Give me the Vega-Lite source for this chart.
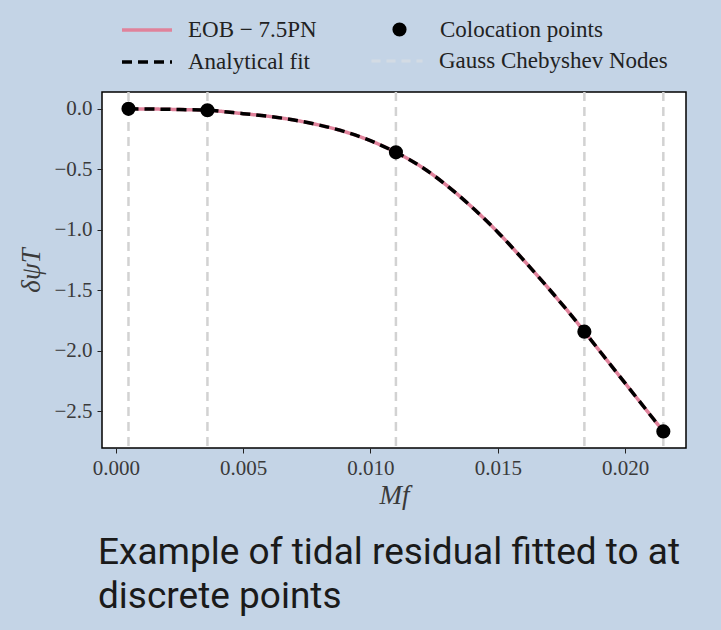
{
  "$schema": "https://vega.github.io/schema/vega-lite/v6.json",
  "width": 584,
  "height": 356,
  "autosize": {"type": "none"},
  "padding": {"left": 102, "top": 92, "right": 35, "bottom": 182},
  "background": "#c4d4e6",
  "config": {
    "view": {"fill": "white", "stroke": "black", "strokeWidth": 1.5},
    "axis": {
      "labelFont": "Liberation Serif",
      "labelFontSize": 21,
      "labelColor": "#3a3a3a",
      "tickColor": "#222222",
      "tickSize": 5,
      "tickWidth": 1,
      "domain": false,
      "grid": false,
      "titleFont": "Liberation Serif",
      "titleFontStyle": "italic",
      "titleFontWeight": "normal",
      "titleFontSize": 27,
      "titleColor": "#3a3a3a"
    },
    "legend": {
      "labelFont": "Liberation Serif",
      "labelFontSize": 23,
      "labelColor": "#222222",
      "labelLimit": 400,
      "orient": "none"
    }
  },
  "title": {
    "text": ["Example of tidal residual fitted to at", "discrete points"],
    "orient": "bottom",
    "anchor": "start",
    "frame": "group",
    "font": "Roboto",
    "fontSize": 37,
    "fontWeight": 400,
    "lineHeight": 44,
    "color": "#1a1a1a",
    "offset": 27,
    "dx": -4
  },
  "resolve": {"scale": {"strokeDash": "independent", "color": "independent"}},
  "datasets": {
    "lines": [
      {"mf": 0.0005, "dpsi": 0.0, "series": "EOB − 7.5PN"},
      {"mf": 0.0015, "dpsi": -0.002, "series": "EOB − 7.5PN"},
      {"mf": 0.0025, "dpsi": -0.006, "series": "EOB − 7.5PN"},
      {"mf": 0.0036, "dpsi": -0.012, "series": "EOB − 7.5PN"},
      {"mf": 0.005, "dpsi": -0.04, "series": "EOB − 7.5PN"},
      {"mf": 0.006, "dpsi": -0.062, "series": "EOB − 7.5PN"},
      {"mf": 0.007, "dpsi": -0.093, "series": "EOB − 7.5PN"},
      {"mf": 0.008, "dpsi": -0.135, "series": "EOB − 7.5PN"},
      {"mf": 0.009, "dpsi": -0.19, "series": "EOB − 7.5PN"},
      {"mf": 0.010, "dpsi": -0.264, "series": "EOB − 7.5PN"},
      {"mf": 0.011, "dpsi": -0.36, "series": "EOB − 7.5PN"},
      {"mf": 0.012, "dpsi": -0.48, "series": "EOB − 7.5PN"},
      {"mf": 0.013, "dpsi": -0.634, "series": "EOB − 7.5PN"},
      {"mf": 0.014, "dpsi": -0.816, "series": "EOB − 7.5PN"},
      {"mf": 0.015, "dpsi": -1.02, "series": "EOB − 7.5PN"},
      {"mf": 0.016, "dpsi": -1.248, "series": "EOB − 7.5PN"},
      {"mf": 0.017, "dpsi": -1.487, "series": "EOB − 7.5PN"},
      {"mf": 0.018, "dpsi": -1.737, "series": "EOB − 7.5PN"},
      {"mf": 0.0184, "dpsi": -1.843, "series": "EOB − 7.5PN"},
      {"mf": 0.0195, "dpsi": -2.136, "series": "EOB − 7.5PN"},
      {"mf": 0.0205, "dpsi": -2.402, "series": "EOB − 7.5PN"},
      {"mf": 0.0215, "dpsi": -2.668, "series": "EOB − 7.5PN"},
      {"mf": 0.0005, "dpsi": 0.0, "series": "Analytical fit"},
      {"mf": 0.0015, "dpsi": -0.002, "series": "Analytical fit"},
      {"mf": 0.0025, "dpsi": -0.006, "series": "Analytical fit"},
      {"mf": 0.0036, "dpsi": -0.012, "series": "Analytical fit"},
      {"mf": 0.005, "dpsi": -0.04, "series": "Analytical fit"},
      {"mf": 0.006, "dpsi": -0.062, "series": "Analytical fit"},
      {"mf": 0.007, "dpsi": -0.093, "series": "Analytical fit"},
      {"mf": 0.008, "dpsi": -0.135, "series": "Analytical fit"},
      {"mf": 0.009, "dpsi": -0.19, "series": "Analytical fit"},
      {"mf": 0.010, "dpsi": -0.264, "series": "Analytical fit"},
      {"mf": 0.011, "dpsi": -0.36, "series": "Analytical fit"},
      {"mf": 0.012, "dpsi": -0.48, "series": "Analytical fit"},
      {"mf": 0.013, "dpsi": -0.634, "series": "Analytical fit"},
      {"mf": 0.014, "dpsi": -0.816, "series": "Analytical fit"},
      {"mf": 0.015, "dpsi": -1.02, "series": "Analytical fit"},
      {"mf": 0.016, "dpsi": -1.248, "series": "Analytical fit"},
      {"mf": 0.017, "dpsi": -1.487, "series": "Analytical fit"},
      {"mf": 0.018, "dpsi": -1.737, "series": "Analytical fit"},
      {"mf": 0.0184, "dpsi": -1.843, "series": "Analytical fit"},
      {"mf": 0.0195, "dpsi": -2.136, "series": "Analytical fit"},
      {"mf": 0.0205, "dpsi": -2.402, "series": "Analytical fit"},
      {"mf": 0.0215, "dpsi": -2.668, "series": "Analytical fit"}
    ],
    "points": [
      {"mf": 0.0005, "dpsi": 0.0, "series": "Colocation points"},
      {"mf": 0.0036, "dpsi": -0.012, "series": "Colocation points"},
      {"mf": 0.011, "dpsi": -0.36, "series": "Colocation points"},
      {"mf": 0.0184, "dpsi": -1.843, "series": "Colocation points"},
      {"mf": 0.0215, "dpsi": -2.668, "series": "Colocation points"}
    ],
    "nodes": [
      {"mf": 0.0005, "series": "Gauss Chebyshev Nodes"},
      {"mf": 0.0036, "series": "Gauss Chebyshev Nodes"},
      {"mf": 0.011, "series": "Gauss Chebyshev Nodes"},
      {"mf": 0.0184, "series": "Gauss Chebyshev Nodes"},
      {"mf": 0.0215, "series": "Gauss Chebyshev Nodes"}
    ]
  },
  "layer": [
    {
      "data": {"name": "nodes"},
      "mark": {"type": "rule", "color": "#d2d2d2", "strokeWidth": 2.5},
      "encoding": {
        "x": {"field": "mf", "type": "quantitative"},
        "strokeDash": {
          "field": "series",
          "type": "nominal",
          "scale": {"domain": ["Gauss Chebyshev Nodes"], "range": [[9, 6]]},
          "legend": {
            "title": null,
            "legendX": 268,
            "legendY": -58,
            "symbolType": "stroke",
            "symbolSize": 2601,
            "symbolStrokeWidth": 3,
            "symbolStrokeColor": "#d3dbe4",
            "symbolDash": [9, 6],
            "labelOffset": 15
          }
        }
      }
    },
    {
      "data": {"name": "lines"},
      "mark": {"type": "line", "strokeWidth": 3.5, "interpolate": "monotone"},
      "encoding": {
        "x": {"field": "mf", "type": "quantitative"},
        "y": {"field": "dpsi", "type": "quantitative"},
        "color": {
          "field": "series",
          "type": "nominal",
          "scale": {"domain": ["EOB − 7.5PN", "Analytical fit"], "range": ["#e0829b", "black"]},
          "legend": {
            "title": null,
            "legendX": 33,
            "legendY": -74,
            "rowPadding": 8,
            "symbolType": "M-2.5,0H2.5",
            "symbolSize": 400,
            "symbolStrokeWidth": 3.5,
            "labelOffset": 29
          }
        },
        "strokeDash": {
          "field": "series",
          "type": "nominal",
          "scale": {"domain": ["EOB − 7.5PN", "Analytical fit"], "range": [[1, 0], [10, 6]]},
          "legend": {
            "title": null,
            "legendX": 33,
            "legendY": -74,
            "rowPadding": 8,
            "symbolType": "M-2.5,0H2.5",
            "symbolSize": 400,
            "symbolStrokeWidth": 3.5,
            "labelOffset": 29
          }
        }
      }
    },
    {
      "data": {"name": "points"},
      "mark": {"type": "point", "filled": true, "opacity": 1, "size": 200, "color": "black"},
      "encoding": {
        "x": {
          "field": "mf",
          "type": "quantitative",
          "scale": {"domain": [-0.00054, 0.02239], "nice": false, "zero": false},
          "axis": {"values": [0, 0.005, 0.01, 0.015, 0.02], "format": ".3f", "title": "Mf", "labelPadding": 4, "titlePadding": 4}
        },
        "y": {
          "field": "dpsi",
          "type": "quantitative",
          "scale": {"domain": [-2.805, 0.139], "nice": false, "zero": false},
          "axis": {"values": [0, -0.5, -1, -1.5, -2, -2.5], "format": ".1f", "title": "δψT", "labelPadding": 5, "titlePadding": 8}
        },
        "shape": {
          "field": "series",
          "type": "nominal",
          "scale": {"domain": ["Colocation points"], "range": ["circle"]},
          "legend": {
            "title": null,
            "legendX": 286,
            "legendY": -74,
            "symbolType": "circle",
            "symbolSize": 200,
            "symbolFillColor": "black",
            "symbolStrokeWidth": 0,
            "labelOffset": 29
          }
        }
      }
    }
  ]
}
